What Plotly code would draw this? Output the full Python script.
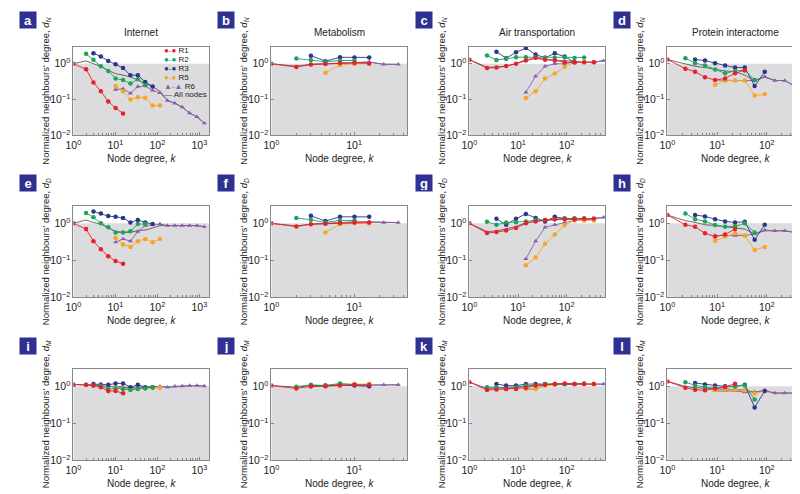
import plotly.graph_objects as go

# log-binned node degrees: Internet and Metabolism use one binning,
# Air transportation and Protein interactome a slightly wider one
K = [1, 2, 3, 4.5, 6.75, 10.1, 15.2, 22.8, 34.2, 51.3, 76.9, 115, 173, 260, 389, 584, 876, 1314]
K2 = [1, 2.3, 3.6, 5.7, 9.1, 14.5, 23, 36, 57, 91, 145, 229, 363, 575]

SERIES = ["All nodes", "R6", "R5", "R3", "R2", "R1"]

# each entry: (index of first bin, values)
a_internet_dN = {
    "R1": (0, [1.0, 0.70, 0.30, 0.17, 0.089, 0.058, 0.041]),
    "R2": (1, [1.9, 1.3, 0.85, 0.63, 0.39, 0.35, 0.28, 0.37, 0.25]),
    "R3": (2, [1.96, 1.6, 1.2, 0.96, 0.76, 0.48, 0.48, 0.31, 0.23]),
    "R5": (5, [0.24, 0.17, 0.10, 0.116, 0.113, 0.068, 0.068]),
    "R6": (5, [0.19, 0.2, 0.15, 0.23, 0.24, 0.18, 0.155, 0.094, 0.079, 0.062, 0.042, 0.033, 0.022]),
    "All nodes": (0, [1.0, 1.2, 1.0, 0.85, 0.65, 0.53, 0.48, 0.43, 0.35, 0.28, 0.23, 0.17,
                      0.094, 0.079, 0.062, 0.042, 0.033, 0.022]),
}
b_metabolism_dN = {
    "R1": (0, [1.0, 0.81, 0.95, 0.98, 1.05, 1.05, 1.02]),
    "R2": (1, [1.39, 1.28, 1.13, 1.23, 1.23]),
    "R3": (2, [1.68, 1.18, 1.51, 1.5, 1.5]),
    "R5": (3, [0.56, 0.92, 1.0, 1.0]),
    "R6": (2, [0.96, 1.0, 1.06, 1.13, 1.13, 0.96, 0.96]),
    "All nodes": (0, [1.0, 0.85, 0.97, 1.0, 1.06, 1.1, 1.1, 0.97, 0.96]),
}
c_air_dN = {
    "R1": (0, [1.29, 0.76, 0.78, 0.86, 1.0, 1.23, 1.46, 1.29, 1.23, 1.1, 1.1, 1.1, 1.1]),
    "R2": (1, [1.69, 1.28, 1.37, 1.52, 1.52, 1.52, 1.46, 1.46, 1.5, 1.45, 1.5]),
    "R3": (2, [2.17, 1.43, 2.08, 2.73, 1.8, 1.46, 1.95, 1.58, 1.1]),
    "R5": (5, [0.11, 0.17, 0.39, 0.53, 0.81, 1.1, 1.1, 1.1]),
    "R6": (5, [0.16, 0.45, 0.85, 1.0, 1.0, 1.1, 1.1, 1.1, 1.22]),
    "All nodes": (0, [1.29, 0.8, 0.8, 0.87, 1.0, 1.3, 1.4, 1.35, 1.3, 1.2, 1.15, 1.1, 1.1, 1.22]),
}
d_protein_dN = {
    "R1": (0, [1.31, 0.73, 0.6, 0.42, 0.35, 0.39, 0.54, 0.66]),
    "R2": (1, [1.42, 1.04, 0.9, 0.69, 0.54, 0.63, 0.66, 0.35]),
    "R3": (2, [1.31, 1.23, 1.04, 0.9, 0.78, 0.78, 0.24, 0.6]),
    "R5": (4, [0.26, 0.34, 0.34, 0.34, 0.13, 0.14]),
    "R6": (4, [0.35, 0.34, 0.34, 0.34, 0.34, 0.44, 0.34, 0.34, 0.24]),
    "All nodes": (0, [1.31, 0.96, 0.85, 0.78, 0.69, 0.63, 0.6, 0.48, 0.34, 0.42, 0.34, 0.34, 0.24]),
}
e_internet_dD = {
    "R1": (0, [1.0, 0.7, 0.33, 0.2, 0.13, 0.096, 0.081]),
    "R2": (1, [1.9, 1.45, 1.0, 0.78, 0.57, 0.57, 0.61, 0.96, 0.96]),
    "R3": (2, [2.1, 1.85, 1.57, 1.5, 1.39, 1.06, 1.23, 1.06, 0.96]),
    "R5": (5, [0.4, 0.27, 0.23, 0.33, 0.38, 0.31, 0.38]),
    "R6": (5, [0.31, 0.38, 0.33, 0.6, 0.87, 0.92, 0.96, 0.87, 0.87, 0.87, 0.87, 0.87, 0.81]),
    "All nodes": (0, [1.0, 1.23, 1.06, 0.96, 0.75, 0.61, 0.57, 0.57, 0.64, 0.66, 0.75, 0.87,
                      0.87, 0.87, 0.87, 0.87, 0.87, 0.81]),
}
f_metabolism_dD = {
    "R1": (0, [1.0, 0.82, 0.95, 0.98, 1.02, 1.05, 1.05]),
    "R2": (1, [1.4, 1.25, 1.05, 1.2, 1.2]),
    "R3": (2, [1.6, 1.15, 1.5, 1.5, 1.5]),
    "R5": (3, [0.57, 0.95, 1.0, 1.0]),
    "R6": (2, [0.95, 1.0, 1.05, 1.1, 1.1, 1.05, 1.05]),
    "All nodes": (0, [1.0, 0.85, 0.95, 1.0, 1.05, 1.08, 1.08, 1.05, 1.05]),
}
g_air_dD = {
    "R1": (0, [1.0, 0.55, 0.58, 0.64, 0.75, 1.0, 1.13, 1.23, 1.3, 1.3, 1.3, 1.35, 1.35]),
    "R2": (1, [1.1, 0.92, 1.05, 1.07, 1.13, 1.23, 1.23, 1.3, 1.35, 1.35, 1.35]),
    "R3": (2, [1.33, 0.92, 1.33, 1.8, 1.4, 1.13, 1.5, 1.35, 1.35]),
    "R5": (5, [0.074, 0.12, 0.28, 0.5, 0.9, 1.2, 1.2, 1.2]),
    "R6": (5, [0.11, 0.33, 0.78, 0.92, 1.05, 1.2, 1.23, 1.3, 1.45]),
    "All nodes": (0, [1.0, 0.6, 0.62, 0.7, 0.82, 1.05, 1.15, 1.2, 1.25, 1.3, 1.3, 1.3, 1.35, 1.45]),
}
h_protein_dD = {
    "R1": (0, [1.68, 0.92, 0.81, 0.54, 0.44, 0.5, 0.7]),
    "R2": (1, [1.85, 1.3, 1.13, 0.9, 0.81, 0.83, 1.0, 0.57]),
    "R3": (2, [1.68, 1.54, 1.3, 1.13, 1.06, 1.1, 0.36, 0.92]),
    "R5": (4, [0.34, 0.44, 0.54, 0.47, 0.19, 0.23]),
    "R6": (4, [0.47, 0.47, 0.47, 0.47, 0.52, 0.66, 0.63, 0.63, 0.57]),
    "All nodes": (0, [1.68, 1.18, 1.06, 0.92, 0.87, 0.81, 0.78, 0.7, 0.52, 0.63, 0.63, 0.63, 0.57]),
}
i_internet_dM = {
    "R1": (0, [1.12, 1.1, 1.05, 0.95, 0.75, 0.75, 0.65]),
    "R2": (1, [1.1, 1.05, 1.05, 0.85, 0.88, 0.85, 0.8, 0.85, 0.88, 0.95]),
    "R3": (2, [1.15, 1.12, 1.1, 1.2, 1.2, 0.95, 1.1, 0.95, 0.95]),
    "R5": (5, [0.92, 0.88, 0.85, 0.88, 0.9, 0.92, 0.92]),
    "R6": (5, [0.95, 0.95, 0.88, 0.95, 0.92, 0.95, 1.0, 0.95, 1.0, 1.02, 1.05, 1.05, 1.02]),
    "All nodes": (0, [1.12, 1.12, 1.1, 1.05, 1.0, 1.0, 0.95, 0.92, 0.95, 0.95, 0.97, 1.0,
                      0.95, 1.0, 1.02, 1.05, 1.05, 1.02]),
}
j_metabolism_dM = {
    "R1": (0, [1.05, 0.88, 1.0, 1.0, 1.05, 1.1, 1.1]),
    "R2": (1, [0.98, 1.1, 1.05, 1.2, 1.1]),
    "R3": (2, [1.0, 1.05, 1.1, 1.05, 1.0]),
    "R5": (3, [1.0, 1.15, 1.15, 1.15]),
    "R6": (2, [1.05, 1.05, 1.1, 1.1, 1.1, 1.1, 1.1]),
    "All nodes": (0, [1.05, 0.95, 1.05, 1.05, 1.1, 1.1, 1.1, 1.1, 1.1]),
}
k_air_dM = {
    "R1": (0, [1.3, 0.8, 0.82, 0.85, 0.85, 0.92, 1.05, 1.1, 1.15, 1.2, 1.15, 1.15, 1.15]),
    "R2": (1, [0.95, 0.95, 0.85, 0.95, 1.05, 1.05, 1.15, 1.15, 1.15, 1.15, 1.2]),
    "R3": (2, [1.15, 1.05, 1.05, 1.15, 1.15, 1.15, 1.15, 1.15, 1.15]),
    "R5": (5, [0.85, 0.85, 1.05, 1.1, 1.15, 1.15, 1.15, 1.15]),
    "R6": (5, [0.85, 0.85, 1.1, 1.1, 1.15, 1.15, 1.15, 1.15, 1.15]),
    "All nodes": (0, [1.3, 0.88, 0.9, 0.92, 0.95, 1.0, 1.05, 1.1, 1.15, 1.15, 1.15, 1.15, 1.15, 1.15]),
}
l_protein_dM = {
    "R1": (0, [1.36, 0.92, 0.81, 0.78, 0.87, 0.96, 1.18]),
    "R2": (1, [1.3, 1.06, 0.96, 0.92, 0.96, 1.0, 1.06, 0.44]),
    "R3": (2, [1.23, 1.13, 1.06, 1.0, 1.0, 1.1, 0.27, 0.75]),
    "R5": (4, [0.78, 0.81, 0.81, 0.78, 0.64, 0.75]),
    "R6": (4, [0.75, 0.75, 0.75, 0.7, 0.7, 0.78, 0.66, 0.66, 0.66]),
    "All nodes": (0, [1.36, 1.0, 0.92, 0.87, 0.85, 0.83, 0.83, 0.78, 0.7, 0.75, 0.66, 0.66, 0.66]),
}

titles = ["Internet", "Metabolism", "Air transportation", "Protein interactome"]
letters = "abcdefghijkl"
measures = ["N", "D", "M"]
panels = [
    a_internet_dN, b_metabolism_dN, c_air_dN, d_protein_dN,
    e_internet_dD, f_metabolism_dD, g_air_dD, h_protein_dD,
    i_internet_dM, j_metabolism_dM, k_air_dM, l_protein_dM,
]

# bins, x range (log10) and tick decades for each column
col_bins = [K, K, K2, K2]
x_ranges = [[0, 3.23], [0, 1.64], [0, 2.79], [0, 2.73]]
x_ticks = [[1, 10, 100, 1000], [1, 10], [1, 10, 100], [1, 10, 100]]

colors = {"R1": "#e8202a", "R2": "#1ea35a", "R3": "#2b3589", "R5": "#f6a623",
          "R6": "#8a5ea8", "All nodes": "#4a4a4a"}

FONT = "Liberation Sans, Arial, sans-serif"
W, H = 800, 494
col_left = [58, 258, 458, 658]
plot_w = 137
row_top = [39, 200, 365]
row_bot = [129, 293, 458]


def px(x):
    return x / W


def py(y):
    return 1 - y / H


def sup(v):
    e = 0
    while 10 ** e < v - 1e-9:
        e += 1
    while 10 ** e > v + 1e-9:
        e -= 1
    return "10<sup>" + ("\u2212" if e < 0 else "") + str(abs(e)) + "</sup>"


def note(x, y, text, size=10, **kw):
    d = dict(x=px(x), y=py(y), xref="paper", yref="paper", text=text, showarrow=False,
             xanchor="center", yanchor="middle", font=dict(size=size, color="#222", family=FONT))
    d.update(kw)
    return d


fig = go.Figure()
layout = {}
annotations = []
shapes = []

for n, data in enumerate(panels):
    row, col = divmod(n, 4)
    sfx = "" if n == 0 else str(n + 1)
    xa, ya = "x" + sfx, "y" + sfx
    bins = col_bins[col]

    for name in SERIES:
        start, vals = data[name]
        ks = bins[start:start + len(vals)]
        if name == "All nodes":
            fig.add_trace(go.Scatter(x=ks, y=vals, mode="lines", xaxis=xa, yaxis=ya,
                                     line=dict(color=colors[name], width=0.8),
                                     showlegend=False))
        else:
            sym = "triangle-up" if name == "R6" else "circle"
            fig.add_trace(go.Scatter(x=ks, y=vals, mode="lines+markers", xaxis=xa, yaxis=ya,
                                     line=dict(color=colors[name], width=0.9),
                                     marker=dict(color=colors[name], size=4.5, symbol=sym),
                                     showlegend=False))

    x0, x1 = col_left[col], col_left[col] + plot_w
    y0, y1 = row_top[row], row_bot[row]
    minor = [m * 10 ** e for e in range(0, 4) for m in range(2, 10)]
    layout["xaxis" + sfx] = dict(
        domain=[px(x0), px(x1)], anchor=ya, type="log", range=x_ranges[col],
        tickmode="array", tickvals=x_ticks[col], ticktext=[sup(v) for v in x_ticks[col]],
        ticks="inside", ticklen=3, tickcolor="#888", showline=True, linecolor="#888",
        linewidth=1, mirror=True, showgrid=False, zeroline=False,
        minor=dict(tickvals=minor, ticks="inside", ticklen=2, tickcolor="#888", showgrid=False),
        tickfont=dict(size=10.5, color="#222", family=FONT),
    )
    layout["yaxis" + sfx] = dict(
        domain=[py(y1), py(y0)], anchor=xa, type="log", range=[-2, 0.48],
        tickmode="array", tickvals=[0.01, 0.1, 1], ticktext=[sup(v) for v in [0.01, 0.1, 1]],
        ticks="inside", ticklen=3, tickcolor="#888", showline=True, linecolor="#888",
        linewidth=1, mirror=True, showgrid=False, zeroline=False,
        tickfont=dict(size=10.5, color="#222", family=FONT),
    )

    # shaded region below 1
    shapes.append(dict(type="rect", xref=xa + " domain", yref=ya, x0=0, x1=1, y0=0.01, y1=1,
                       fillcolor="#dcdcde", line=dict(width=0), layer="below"))

    cx = (x0 + x1) / 2
    annotations.append(note(cx, y1 + 23, "Node degree, <i>k</i>"))
    annotations.append(note(col * 200 + 30, (y0 + y1) / 2,
                            "Normalized neighbours' degree, <i>d</i><sub><i>" + measures[row] + "</i></sub>",
                            size=9.5, textangle=-90))
    annotations.append(dict(x=px(col * 200 + 3), y=py(row * 165 + 3), xref="paper", yref="paper",
                            xanchor="left", yanchor="top", text="<b>" + letters[n] + "</b>",
                            showarrow=False, bgcolor="#2e3192", width=14, height=14,
                            font=dict(size=13, color="white", family=FONT)))
    if row == 0:
        annotations.append(note(cx, 25, titles[col]))

# hand-drawn legend inside panel a
legend_items = [("R1", "\u25cf-\u25cf"), ("R2", "\u25cf-\u25cf"), ("R3", "\u25cf-\u25cf"),
                ("R5", "\u25cf-\u25cf"), ("R6", "\u25b2-\u25b2"), ("All nodes", "\u2014")]
for i, (name, glyph) in enumerate(legend_items):
    annotations.append(note(147, 43 + 9 * i,
                            '<span style="color:' + colors[name] + '">' + glyph + "</span> " + name,
                            size=8, xanchor="left"))

fig.update_layout(**layout)
fig.update_layout(
    width=W, height=H, margin=dict(l=0, r=0, t=0, b=0),
    paper_bgcolor="white", plot_bgcolor="white",
    annotations=annotations, shapes=shapes, showlegend=False,
    font=dict(family=FONT, color="#222"),
)

fig.write_html("out.html")
